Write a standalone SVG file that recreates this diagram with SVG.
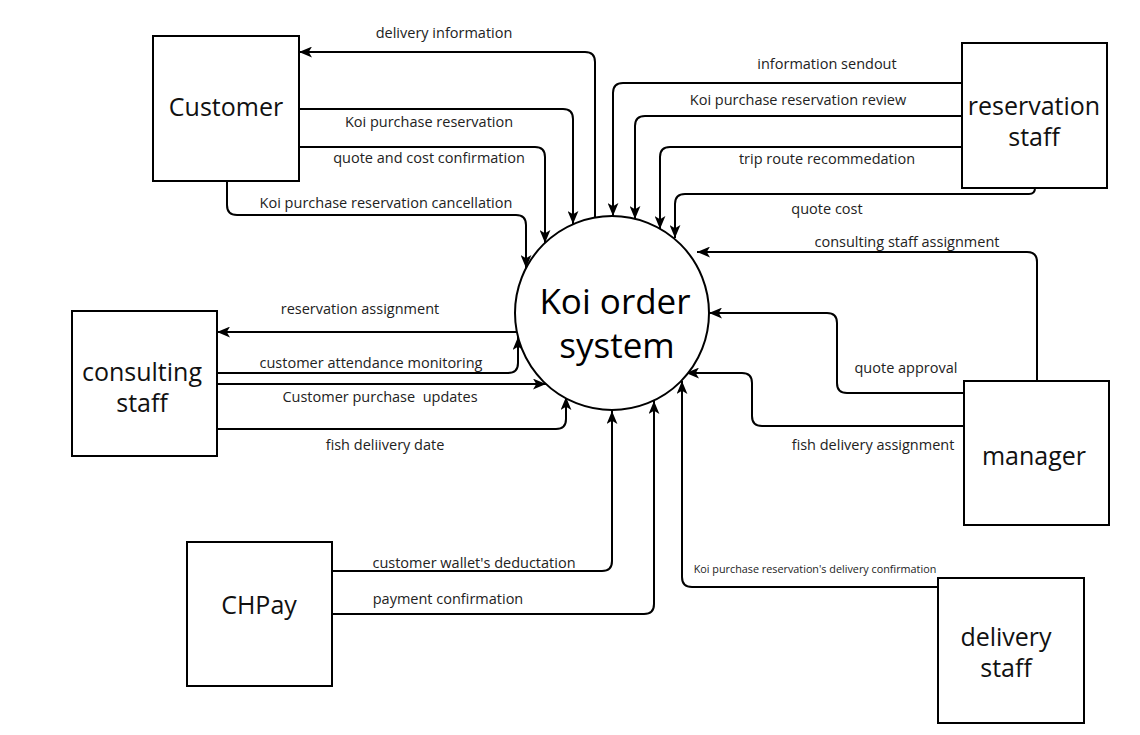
<svg xmlns="http://www.w3.org/2000/svg" width="1140" height="735" viewBox="0 0 1140 735">
<defs>
<marker id="arr" viewBox="0 0 12 10" refX="12" refY="5" markerWidth="13" markerHeight="11" markerUnits="userSpaceOnUse" orient="auto">
<path d="M0,0 L12,5 L0,10 L3,5 Z" fill="#000"/>
</marker>
<style>
.box{fill:#fff;stroke:#000;stroke-width:2}
.nt{font-family:"Open Sans","Noto Sans",sans-serif;font-size:25px;fill:#111;text-anchor:middle}
.ct{font-family:"Open Sans","Noto Sans",sans-serif;font-size:35px;fill:#000;text-anchor:middle}
.lb{font-family:"Open Sans","Noto Sans",sans-serif;font-size:14.5px;fill:#222;text-anchor:middle}
.sm{font-family:"Open Sans","Noto Sans",sans-serif;font-size:10.8px;fill:#222;text-anchor:middle}
.cn path{fill:none;stroke:#000;stroke-width:2;marker-end:url(#arr)}
</style>
</defs>
<rect width="1140" height="735" fill="#fff"/>
<g id="connectors" class="cn">
<path d="M595,218 L595,62 Q595,52 585,52 L299,52"/>
<path d="M299,109 L563,109 Q573,109 573,119 L573,224"/>
<path d="M299,147 L535,147 Q545,147 545,157 L545,243"/>
<path d="M227,181 L227,205 Q227,215 237,215 L516,215 Q526,215 526,225 L526,268"/>
<path d="M962,83 L623,83 Q613,83 613,93 L613,216"/>
<path d="M962,116 L645,116 Q635,116 635,126 L635,219"/>
<path d="M962,147 L670,147 Q660,147 660,157 L660,229"/>
<path d="M1035,188 Q1035,194 1029,194 L685,194 Q675,194 675,204 L675,238"/>
<path d="M1037,381 L1037,262 Q1037,252 1027,252 L697,252"/>
<path d="M964,393 L847,393 Q837,393 837,383 L837,323 Q837,313 827,313 L709,313"/>
<path d="M964,426 L762,426 Q752,426 752,416 L752,383 Q752,373 742,373 L686,373"/>
<path d="M517,332 L217,332"/>
<path d="M217,373 L508,373 Q518,373 518,363 L518,337"/>
<path d="M217,384 L546,384"/>
<path d="M217,429 L556,429 Q566,429 566,419 L566,397"/>
<path d="M332,571 L602,571 Q612,571 612,561 L612,411"/>
<path d="M332,614 L644,614 Q654,614 654,604 L654,401"/>
<path d="M938,587 L692,587 Q682,587 682,577 L682,381"/>
</g>
<g id="labels">
<text class="lb" x="444" y="38">delivery information</text>
<text class="lb" x="429" y="127">Koi purchase reservation</text>
<text class="lb" x="429" y="163">quote and cost confirmation</text>
<text class="lb" x="386" y="208">Koi purchase reservation cancellation</text>
<text class="lb" x="827" y="69">information sendout</text>
<text class="lb" x="798" y="105">Koi purchase reservation review</text>
<text class="lb" x="827" y="164">trip route recommedation</text>
<text class="lb" x="827" y="214">quote cost</text>
<text class="lb" x="907" y="247">consulting staff assignment</text>
<text class="lb" x="906" y="373">quote approval</text>
<text class="lb" x="873" y="450">fish delivery assignment</text>
<text class="lb" x="360" y="314">reservation assignment</text>
<text class="lb" x="371" y="368">customer attendance monitoring</text>
<text class="lb" x="380" y="402" xml:space="preserve">Customer purchase  updates</text>
<text class="lb" x="385" y="450">fish deliivery date</text>
<text class="lb" x="474" y="568">customer wallet's deductation</text>
<text class="lb" x="448" y="604">payment confirmation</text>
<text class="sm" x="815" y="573">Koi purchase reservation's delivery confirmation</text>
</g>
<g id="koi-order-system">
<circle cx="612" cy="313" r="97" fill="#fff" stroke="#000" stroke-width="2"/>
<text class="ct" x="615" y="314">Koi order<tspan x="617" dy="44">system</tspan></text>
</g>
<g id="customer">
<rect class="box" x="153" y="36" width="146" height="145"/>
<text class="nt" x="226" y="116">Customer</text>
</g>
<g id="reservation-staff">
<rect class="box" x="962" y="43" width="145" height="145"/>
<text class="nt" x="1034" y="115">reservation<tspan x="1034" dy="31">staff</tspan></text>
</g>
<g id="manager">
<rect class="box" x="964" y="381" width="145" height="144"/>
<text class="nt" x="1034" y="465">manager</text>
</g>
<g id="consulting-staff">
<rect class="box" x="72" y="311" width="145" height="145"/>
<text class="nt" x="142" y="381">consulting<tspan x="142" dy="31">staff</tspan></text>
</g>
<g id="chpay">
<rect class="box" x="187" y="542" width="145" height="144"/>
<text class="nt" x="259" y="614">CHPay</text>
</g>
<g id="delivery-staff">
<rect class="box" x="938" y="578" width="146" height="145"/>
<text class="nt" x="1006" y="646">delivery<tspan x="1006" dy="31">staff</tspan></text>
</g>
</svg>
